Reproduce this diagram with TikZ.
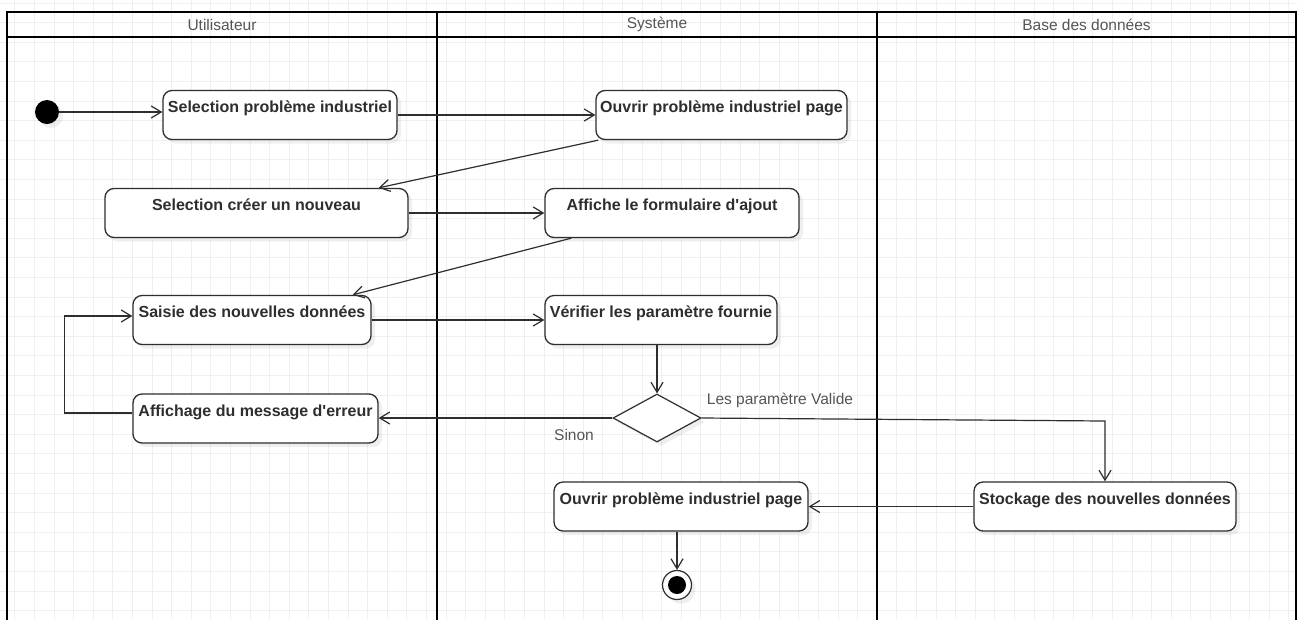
\documentclass[tikz,border=0pt]{standalone}
\usepackage{fontspec}
\setmainfont{Liberation Sans}
\usetikzlibrary{arrows.meta,shapes.geometric,shadows,calc}
\definecolor{ink}{HTML}{2E2E2E}
\definecolor{gridc}{HTML}{EFEFEF}
\definecolor{lbl}{HTML}{555555}

\begin{document}
\begin{tikzpicture}[x=1pt,y=-1pt,
  font=\fontsize{15.5}{18}\selectfont,
  lane/.style={line width=2pt, draw=black},
  soft/.style={drop shadow={shadow xshift=4pt, shadow yshift=-4pt, opacity=0.12}},
  act/.style={draw=ink, fill=white, line width=1.3pt, rounded corners=9pt,
    font=\fontsize{16}{18}\selectfont\bfseries, text=ink,
    text height=22pt, text depth=27pt, inner ysep=0pt, inner xsep=1pt, soft},
  flow/.style={draw=ink, line width=1.2pt, -{Straight Barb[length=10pt,width=12pt]}},
  guard/.style={text=lbl, inner sep=1pt},
  lanehead/.style={text=lbl, inner sep=1pt}
]
\useasboundingbox (0,0) rectangle (1297,619);
\clip (0,0) rectangle (1297,619);
\fill[white] (0,0) rectangle (1297,619);

% background grid
\foreach \i in {0,...,66} \draw[gridc, line width=0.8pt] ({14.7+19.6*\i},0) -- ++(0,619);
\foreach \j in {0,...,31} \draw[gridc, line width=0.8pt] (0,{2.9+19.6*\j}) -- ++(1297,0);

% swimlanes
\draw[lane] (7,640) -- (7,12) -- (1296,12) -- (1296,640);
\draw[lane] (7,37) -- (1296,37);
\draw[lane] (437,12) -- (437,640);
\draw[lane] (877,12) -- (877,640);
\node[lanehead] (hu) at (222,24.5) {Utilisateur};
\node[lanehead] (hs) at (657,24.5) {Système};
\node[lanehead] (hb) at (1086.5,24.5) {Base des données};

% activities
\node[circle, fill=black, minimum size=24pt, inner sep=0pt, soft] (start) at (47,112) {};
\node[act, minimum width=234pt] (sel1) at (280,115) {Selection problème industriel};
\node[act, minimum width=251pt] (ouv1) at (721.5,115) {Ouvrir problème industriel page};
\node[act, minimum width=303pt] (creer) at (256.5,213) {Selection créer un nouveau};
\node[act, minimum width=254pt] (aff) at (672,213) {Affiche le formulaire d\textquotesingle ajout};
\node[act, minimum width=238pt] (saisie) at (252,320) {Saisie des nouvelles données};
\node[act, minimum width=232pt] (verif) at (661,320) {Vérifier les paramètre fournie};
\node[diamond, draw=ink, line width=1.2pt, fill=white, minimum width=88pt,
      minimum height=48pt, inner sep=0pt, soft] (dec) at (657,418) {};
\node[act, minimum width=245pt] (erreur) at (255.5,418.5) {Affichage du message d\textquotesingle erreur};
\node[act, minimum width=262pt] (stock) at (1105,506.5) {Stockage des nouvelles données};
\node[act, minimum width=254pt] (ouv2) at (681,506.5) {Ouvrir problème industriel page};
\node[circle, draw=ink, line width=1.2pt, fill=white, minimum size=29pt, inner sep=0pt, soft] (end) at (677,585) {};
\fill[black] (end.center) circle (9pt);

% guards
\node[guard] (lsin) at (574,435) {Sinon};
\node[guard] (lval) at (780,400) {Les paramètre Valide};

% control flow
\draw[flow] (start.east) -- (start -| sel1.west);
\draw[flow] (sel1.east) -- (ouv1.west);
\draw[flow] ([xshift=3pt]ouv1.south west) -- ([xshift=-30pt]creer.north east);
\draw[flow] (creer.east) -- (aff.west);
\draw[flow] ([xshift=27pt]aff.south west) -- ([xshift=-19pt]saisie.north east);
\draw[flow] (saisie.east) -- (verif.west);
\draw[flow] (dec.north |- verif.south) -- (dec.north);
\draw[flow] (dec.west) -- (dec.west -| erreur.east);
\draw[flow] (dec.east) -- ($(dec.east -| stock.north)+(0,3)$) -- (stock.north);
\draw[flow] (stock.west) -- (stock.west -| ouv2.east);
\draw[flow] (end.north |- ouv2.south) -- (end.north);
\draw[flow] ([yshift=5.5pt]erreur.west) -- ++(-68,0) |- ([yshift=4pt]saisie.west);
\end{tikzpicture}
\end{document}
